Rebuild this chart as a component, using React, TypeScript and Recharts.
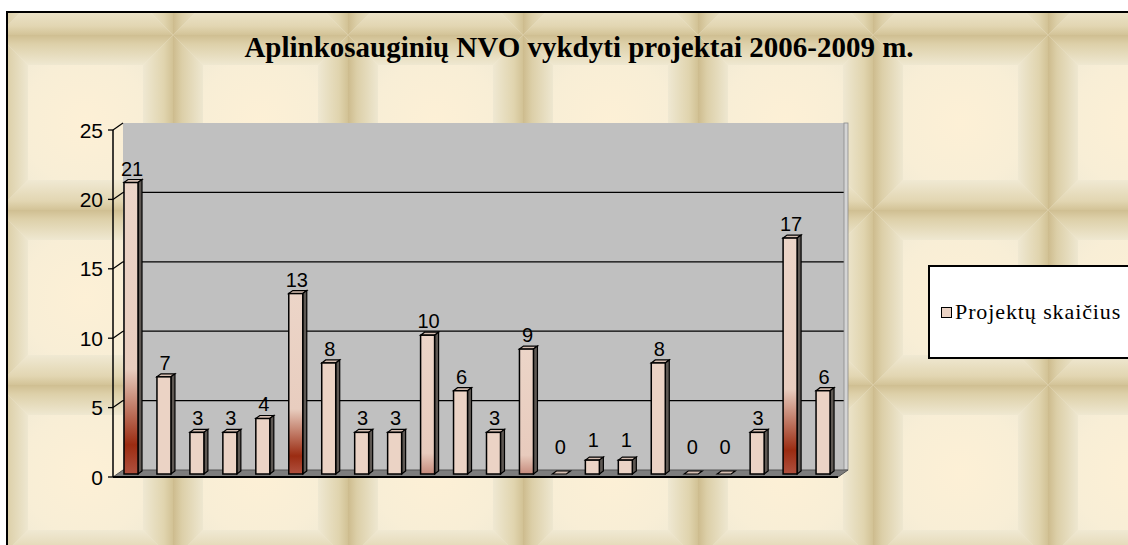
import React from 'react';
import { BarChart, Bar, XAxis, YAxis, CartesianGrid, ReferenceArea, LabelList } from 'recharts';

// values
const chartTitle = 'Aplinkosauginių NVO vykdyti projektai 2006-2009 m.';
const seriesName = 'Projektų skaičius';
const categories = ['1', '2', '3', '4', '5', '6', '7', '8', '9', '10', '11', '12', '13', '14', '15', '16', '17', '18', '19', '20', '21', '22'];
const projectCounts = [21, 7, 3, 3, 4, 13, 8, 3, 3, 10, 6, 3, 9, 0, 1, 1, 8, 0, 0, 3, 17, 6];
const yTicks = [0, 5, 10, 15, 20, 25];

const data = categories.map((name, i) => ({ name, value: projectCounts[i] }));

// 3D look: back wall is the plot area, front plane is shifted left/down
const WALL_DX = 10;
const WALL_DY = 7;
const BAR_DX = -8;
const BAR_DY = 4;
const DEPTH_X = 4;
const DEPTH_Y = 3;
const BAR_FILL = '#ebd3c5';
const SANS = '"Liberation Sans", Arial, sans-serif';
const SERIF = '"Liberation Serif", "Times New Roman", serif';
const TILE = 175;

function Bar3D(props: any) {
  const { x, y, width, height, value, index } = props;
  const fx = x + BAR_DX;
  const fy = y + BAR_DY;
  const h = Math.max(0, height);
  let fill = BAR_FILL;
  const gid = `bar-grad-${index}`;
  if (value >= 12) fill = `url(#${gid}-s)`;
  else if (value >= 9) fill = `url(#${gid}-f)`;
  return (
    <g>
      <defs>
        <linearGradient id={`${gid}-s`} x1="0" y1="0" x2="0" y2="1">
          <stop offset="0" stopColor="#ecd5c8" />
          <stop offset="0.64" stopColor="#e8cdbf" />
          <stop offset="0.9" stopColor="#9b2c12" />
          <stop offset="1" stopColor="#b0513f" />
        </linearGradient>
        <linearGradient id={`${gid}-f`} x1="0" y1="0" x2="0" y2="1">
          <stop offset="0" stopColor="#ecd5c8" />
          <stop offset="0.85" stopColor="#e8cbbd" />
          <stop offset="1" stopColor="#c68b7c" />
        </linearGradient>
      </defs>
      <polygon
        points={`${fx},${fy} ${fx + DEPTH_X},${fy - DEPTH_Y} ${fx + width + DEPTH_X},${fy - DEPTH_Y} ${fx + width},${fy}`}
        fill="#d6bfb2"
        stroke="#000"
        strokeWidth={1.2}
      />
      {h > 0 && (
        <>
          <polygon
            points={`${fx + width},${fy} ${fx + width + DEPTH_X},${fy - DEPTH_Y} ${fx + width + DEPTH_X},${fy + h - DEPTH_Y} ${fx + width},${fy + h}`}
            fill="#5e5853"
            stroke="#000"
            strokeWidth={1.2}
          />
          <rect x={fx} y={fy} width={width} height={h} fill={fill} stroke="#000" strokeWidth={1.5} />
        </>
      )}
    </g>
  );
}

function ValueLabel(props: any) {
  const { x, y, width, value } = props;
  const lift = 7 + Math.max(0, 2 - value) * 6.5;
  return (
    <text x={x + width / 2 + BAR_DX + 1} y={y + BAR_DY - lift} textAnchor="middle" fontSize={20} fontFamily={SANS} fill="#000">
      {value}
    </text>
  );
}

function YTick(props: any) {
  const { y, payload, index } = props;
  const wallX = 123;
  const frontX = wallX - WALL_DX;
  const fy = y + WALL_DY;
  return (
    <g>
      <text x={103} y={fy} dy="0.36em" textAnchor="end" fontSize={21} fontFamily={SANS} fill="#000">
        {payload.value}
      </text>
      <line x1={frontX - 5} y1={fy} x2={frontX} y2={fy} stroke="#000" strokeWidth={1.3} />
      {index !== 0 && <line x1={frontX} y1={fy} x2={wallX} y2={y} stroke="#000" strokeWidth={1.2} />}
    </g>
  );
}

function FloorShape(props: any) {
  const { x, y, width, height } = props;
  const bottom = y + height;
  const fx = x - WALL_DX;
  const fb = bottom + WALL_DY;
  return (
    <g>
      <rect x={x + width - 4} y={y} width={4} height={height} fill="#d4d4d4" stroke="#8a8a8a" strokeWidth={0.8} />
      <polygon
        points={`${x},${bottom} ${x + width},${bottom} ${fx + width},${fb} ${fx},${fb}`}
        fill="#7d7d7d"
        stroke="#555"
        strokeWidth={1}
      />
      <line x1={fx} y1={fb} x2={fx + width} y2={fb} stroke="#000" strokeWidth={2} />
      <line x1={fx} y1={y + WALL_DY} x2={fx} y2={fb} stroke="#000" strokeWidth={1.5} />
    </g>
  );
}

function Backdrop() {
  const b = 30;
  const t = TILE;
  return (
    <svg width={1128} height={545} style={{ position: 'absolute', left: 0, top: 0 }}>
      <defs>
        <linearGradient id="bev-top" x1="0" y1="0" x2="0" y2="1">
          <stop offset="0" stopColor="#cfbe91" />
          <stop offset="0.3" stopColor="#ddd0a9" />
          <stop offset="1" stopColor="#efe8d1" />
        </linearGradient>
        <linearGradient id="bev-bottom" x1="0" y1="1" x2="0" y2="0">
          <stop offset="0" stopColor="#d3c397" />
          <stop offset="0.3" stopColor="#e2d6b2" />
          <stop offset="1" stopColor="#f0e9d3" />
        </linearGradient>
        <linearGradient id="bev-left" x1="0" y1="0" x2="1" y2="0">
          <stop offset="0" stopColor="#cdbb8d" />
          <stop offset="0.3" stopColor="#dccfa8" />
          <stop offset="1" stopColor="#eee7d0" />
        </linearGradient>
        <linearGradient id="bev-right" x1="1" y1="0" x2="0" y2="0">
          <stop offset="0" stopColor="#d2c295" />
          <stop offset="0.3" stopColor="#e0d4ae" />
          <stop offset="1" stopColor="#efe8d2" />
        </linearGradient>
        <radialGradient id="tile-core" cx="0.5" cy="0.5" r="0.6">
          <stop offset="0" stopColor="#fdf0d6" />
          <stop offset="0.6" stopColor="#f8eed6" />
          <stop offset="1" stopColor="#efe9d4" />
        </radialGradient>
        <pattern id="tiles" patternUnits="userSpaceOnUse" x={-2} y={35} width={t} height={t}>
          <rect width={t} height={t} fill="url(#tile-core)" />
          <polygon points={`0,0 ${t},0 ${t - b},${b} ${b},${b}`} fill="url(#bev-top)" />
          <polygon points={`0,${t} ${t},${t} ${t - b},${t - b} ${b},${t - b}`} fill="url(#bev-bottom)" />
          <polygon points={`0,0 ${b},${b} ${b},${t - b} 0,${t}`} fill="url(#bev-left)" />
          <polygon points={`${t},0 ${t - b},${b} ${t - b},${t - b} ${t},${t}`} fill="url(#bev-right)" />
        </pattern>
      </defs>
      <rect x={0} y={0} width={1128} height={545} fill="#fff" />
      <rect x={7} y={12} width={1140} height={560} fill="url(#tiles)" stroke="#000" strokeWidth={2} />
    </svg>
  );
}

export default function App() {
  return (
    <div style={{ position: 'absolute', left: 0, top: 0, width: 1128, height: 545, overflow: 'hidden' }}>
      <Backdrop />
      <div
        style={{
          position: 'absolute',
          left: 0,
          top: 33,
          width: 1158,
          textAlign: 'center',
          fontFamily: SERIF,
          fontWeight: 'bold',
          fontSize: 29,
          lineHeight: '29px',
        }}
      >
        {chartTitle}
      </div>
      <div style={{ position: 'absolute', left: 0, top: 0 }}>
        <BarChart width={1128} height={545} data={data} margin={{ top: 123, right: 280, bottom: 75, left: 63 }}>
          <CartesianGrid vertical={false} horizontalValues={[5, 10, 15, 20]} stroke="#000" strokeWidth={1.3} fill="#c0c0c0" fillOpacity={1} />
          <XAxis dataKey="name" hide />
          <YAxis domain={[0, 25]} ticks={yTicks} interval={0} axisLine={false} tickLine={false} width={60} tick={<YTick />} />
          <ReferenceArea y1={0} y2={25} shape={<FloorShape />} />
          <Bar dataKey="value" name={seriesName} barSize={14} shape={<Bar3D />} isAnimationActive={false}>
            <LabelList dataKey="value" content={<ValueLabel />} />
          </Bar>
        </BarChart>
      </div>
      <div
        style={{
          position: 'absolute',
          left: 928,
          top: 265,
          width: 220,
          height: 94,
          boxSizing: 'border-box',
          border: '2px solid #000',
          background: '#fff',
          fontFamily: SERIF,
          fontSize: 22,
          display: 'flex',
          alignItems: 'center',
        }}
      >
        <span style={{ display: 'inline-block', width: 9, height: 9, border: '1.5px solid #000', background: BAR_FILL, marginLeft: 11, marginRight: 3 }} />
        <span style={{ letterSpacing: 0.9 }}>{seriesName}</span>
      </div>
    </div>
  );
}
